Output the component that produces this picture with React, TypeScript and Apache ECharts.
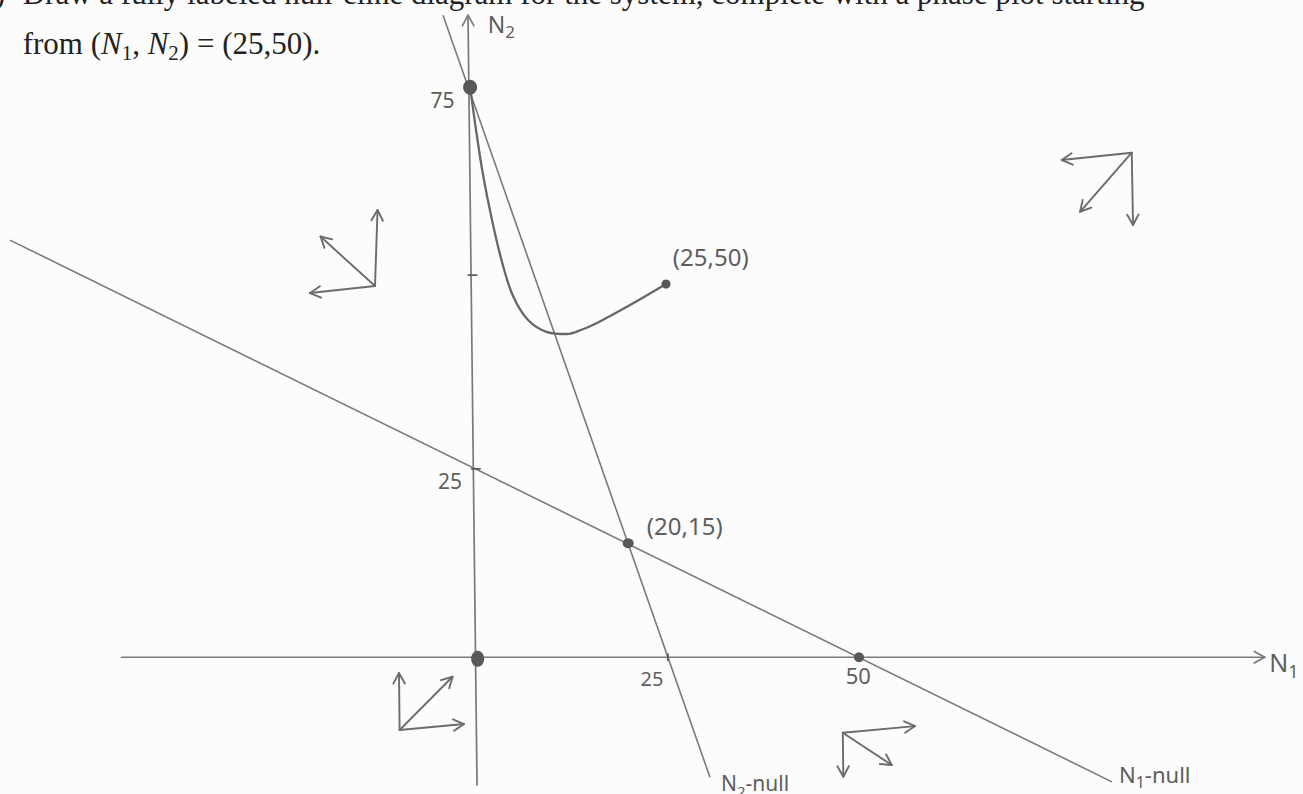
import React, { useEffect, useRef } from "react";
import * as echarts from "echarts";

// ---- data (in N1 / N2 units) ----
const xRange = [-62.5, 108];
const yRange = [-18, 86.5];

// axes drawn by hand: [startN1, startN2, endN1, endN2]
const axisArrows = [
  [-46.6, 0, 103.0, 0],
  [-0.08, -16.8, -1.26, 84.5],
];

// null-clines (straight lines through their drawn end points)
const n1NullLine = [
  [-61.2, 54.9],
  [83.0, -16.4],
];
const n2NullLine = [
  [-4.53, 84.5],
  [30.4, -15.8],
];

// phase trajectory starting at (25,50)
const trajectory = [
  [24.65, 49.12],
  [19.94, 46.35],
  [15.62, 43.99],
  [13.6, 43.1],
  [11.71, 42.54],
  [9.09, 42.8],
  [6.6, 44.38],
  [4.63, 47.54],
  [3.19, 52.01],
  [1.88, 57.54],
  [0.71, 63.46],
  [-0.21, 69.39],
  [-0.99, 75.04],
];

// equilibrium / marked points: [N1, N2, width, height]
const dots = [
  [0, -0.2, 13, 16],
  [19.7, 15.0, 11, 10],
  [-0.99, 75.03, 14, 15],
  [49.9, 0, 10, 10],
  [24.65, 49.12, 9, 9],
];

// small tick marks: [x1, y1, x2, y2]
const ticks = [
  [-0.77, 24.8, 0.31, 24.8],
  [-1.22, 50.3, -0.12, 50.3],
  [24.9, -0.4, 24.9, 0.4],
];

// direction arrows in each region: [fromN1, fromN2, toN1, toN2]
const regionArrows = [
  [-13.43, 48.85, -13.1, 58.86],
  [-13.43, 48.85, -21.93, 47.93],
  [-13.43, 48.85, -20.56, 55.37],
  [85.59, 66.4, 76.43, 65.44],
  [85.59, 66.4, 85.76, 56.88],
  [85.59, 66.4, 78.83, 58.63],
  [-10.21, -9.58, -10.29, -2.08],
  [-10.21, -9.58, -1.78, -8.79],
  [-10.21, -9.58, -3.28, -2.57],
  [47.78, -9.94, 57.24, -9.06],
  [47.78, -9.94, 47.85, -15.73],
  [47.78, -9.94, 54.19, -14.19],
];

// hand-written labels: position [N1, N2], text, size
const labelPos = [
  [-4.59, 73.3],
  [-3.61, 23.2],
  [22.8, -2.74],
  [49.8, -2.34],
  [27.1, 17.3],
  [30.5, 52.7],
  [3.1, 83.4],
  [105.5, -0.6],
  [36.3, -16.6],
  [88.6, -15.4],
];
const labelText = [
  "75",
  "25",
  "25",
  "50",
  "(20,15)",
  "(25,50)",
  "N{s|2}",
  "N{s|1}",
  "N{s|2}-null",
  "N{s|1}-null",
];
const labelSize = [21, 21, 20, 22, 24, 24, 23, 25, 21, 22];

const titleLine1Prefix = "c)";
const titleLine1 =
  "Draw a fully labeled null-cline diagram for the system, complete with a phase plot starting";
const titleLine2 = "from ({i|N}{sub|1}, {i|N}{sub|2}) = (25,50).";

const PENCIL = "#7a7a7a";
const DARK = "#5a5a5a";
const HAND_FONT = "'Noto Sans', 'DejaVu Sans', sans-serif";
const SERIF = "'Liberation Serif', serif";

function makeArrowRenderer(stroke: string, lineWidth: number, headLen: number, headAngle: number) {
  return (params: any, api: any) => {
    const p1 = api.coord([api.value(0), api.value(1)]);
    const p2 = api.coord([api.value(2), api.value(3)]);
    const a = Math.atan2(p2[1] - p1[1], p2[0] - p1[0]);
    const children: any[] = [
      {
        type: "line",
        shape: { x1: p1[0], y1: p1[1], x2: p2[0], y2: p2[1] },
        style: { stroke, lineWidth, lineCap: "round" },
      },
    ];
    if (headLen > 0) {
      const h1 = [p2[0] - headLen * Math.cos(a - headAngle), p2[1] - headLen * Math.sin(a - headAngle)];
      const h2 = [p2[0] - headLen * Math.cos(a + headAngle), p2[1] - headLen * Math.sin(a + headAngle)];
      children.push({
        type: "polyline",
        shape: { points: [h1, p2, h2] },
        style: { stroke, lineWidth, fill: "none", lineCap: "round", lineJoin: "round" },
      });
    }
    return { type: "group", children };
  };
}

export default function App() {
  const ref = useRef<HTMLDivElement>(null);
  useEffect(() => {
    if (!ref.current) return;
    const chart = echarts.init(ref.current, undefined, { renderer: "svg" });
    const option: any = {
      animation: false,
      backgroundColor: "#fcfcfc",
      grid: { left: 0, right: 0, top: 0, bottom: 0 },
      xAxis: { type: "value", min: xRange[0], max: xRange[1], show: false },
      yAxis: { type: "value", min: yRange[0], max: yRange[1], show: false },
      graphic: [
        {
          type: "text",
          x: 5,
          y: -7,
          style: {
            text: titleLine1Prefix,
            fontFamily: SERIF,
            fontSize: 31,
            fill: "#222",
            align: "right",
            verticalAlign: "middle",
          },
        },
        {
          type: "text",
          x: 22.7,
          y: -7,
          style: {
            text: titleLine1,
            fontFamily: SERIF,
            fontSize: 31,
            fill: "#222",
            align: "left",
            verticalAlign: "middle",
          },
        },
        {
          type: "text",
          x: 22.7,
          y: 43,
          style: {
            text: titleLine2,
            fontFamily: SERIF,
            fontSize: 31,
            lineHeight: 40,
            fill: "#222",
            align: "left",
            verticalAlign: "middle",
            rich: {
              i: { fontStyle: "italic", fontFamily: SERIF, fontSize: 31, lineHeight: 40, fill: "#222" },
              sub: { fontFamily: SERIF, fontSize: 21, lineHeight: 22, verticalAlign: "bottom", fill: "#222" },
            },
          },
        },
      ],
      series: [
        {
          type: "line",
          data: n1NullLine,
          symbol: "none",
          lineStyle: { color: PENCIL, width: 1.6 },
          z: 2,
        },
        {
          type: "line",
          data: n2NullLine,
          symbol: "none",
          lineStyle: { color: PENCIL, width: 1.6 },
          z: 2,
        },
        {
          type: "line",
          data: trajectory,
          smooth: 0.35,
          symbol: "none",
          lineStyle: { color: "#676767", width: 2.3 },
          z: 3,
        },
        {
          type: "custom",
          data: axisArrows,
          encode: { x: [0, 2], y: [1, 3] },
          renderItem: makeArrowRenderer(PENCIL, 1.7, 12, 0.5),
          z: 2,
        },
        {
          type: "custom",
          data: ticks,
          encode: { x: [0, 2], y: [1, 3] },
          renderItem: makeArrowRenderer(DARK, 1.8, 0, 0),
          z: 3,
        },
        {
          type: "custom",
          data: regionArrows,
          encode: { x: [0, 2], y: [1, 3] },
          renderItem: makeArrowRenderer("#6c6c6c", 1.9, 12, 0.5),
          z: 3,
        },
        {
          type: "scatter",
          data: dots.map((d) => ({ value: [d[0], d[1]], symbolSize: [d[2], d[3]] })),
          symbol: "circle",
          itemStyle: { color: "#585858", opacity: 1 },
          z: 4,
        },
        {
          type: "custom",
          data: labelPos,
          encode: { x: 0, y: 1 },
          renderItem: (params: any, api: any) => {
            const p = api.coord([api.value(0), api.value(1)]);
            const size = labelSize[params.dataIndex];
            const lh = Math.round(size * 1.45);
            return {
              type: "text",
              x: p[0],
              y: p[1],
              style: {
                text: labelText[params.dataIndex],
                fontFamily: HAND_FONT,
                fontSize: size,
                lineHeight: lh,
                fill: "#5e5e5e",
                align: "center",
                verticalAlign: "middle",
                rich: {
                  s: {
                    fontFamily: HAND_FONT,
                    fontSize: Math.round(size * 0.72),
                    lineHeight: Math.round(size * 0.8),
                    verticalAlign: "bottom",
                    fill: "#5e5e5e",
                  },
                },
              },
            };
          },
          z: 5,
        },
      ],
    };
    chart.setOption(option);
    return () => chart.dispose();
  }, []);
  return (
    <div
      ref={ref}
      style={{ position: "fixed", left: 0, top: 0, width: 1303, height: 794 }}
    />
  );
}
